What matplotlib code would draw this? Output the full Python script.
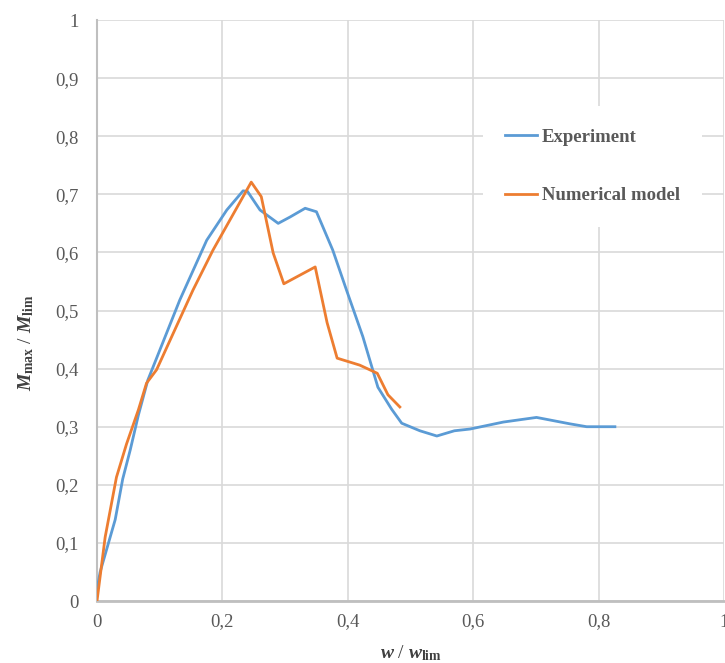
import matplotlib.pyplot as plt
from matplotlib.ticker import FuncFormatter

# Experiment curve (blue)
exp_x = [0.0, 0.005, 0.029, 0.041, 0.053, 0.066, 0.081, 0.132, 0.175, 0.207, 0.233, 0.24,
         0.26, 0.289, 0.308, 0.332, 0.35, 0.376, 0.398, 0.424, 0.448, 0.47, 0.486, 0.515,
         0.542, 0.57, 0.595, 0.648, 0.701, 0.754, 0.781, 0.826]
exp_y = [0.02, 0.05, 0.14, 0.21, 0.26, 0.32, 0.38, 0.518, 0.621, 0.673, 0.706, 0.705,
         0.673, 0.65, 0.661, 0.676, 0.67, 0.604, 0.535, 0.455, 0.368, 0.33, 0.306, 0.293,
         0.284, 0.293, 0.296, 0.308, 0.316, 0.305, 0.3, 0.30]

# Numerical model curve (orange)
num_x = [0.0, 0.013, 0.031, 0.047, 0.066, 0.079, 0.095, 0.153, 0.185, 0.246, 0.262,
         0.281, 0.298, 0.348, 0.367, 0.383, 0.419, 0.447, 0.464, 0.483]
num_y = [0.0, 0.11, 0.213, 0.27, 0.329, 0.375, 0.398, 0.535, 0.604, 0.721, 0.696,
         0.599, 0.546, 0.575, 0.479, 0.418, 0.406, 0.392, 0.355, 0.334]

ticks = [0, 0.1, 0.2, 0.3, 0.4, 0.5, 0.6, 0.7, 0.8, 0.9, 1.0]
xticks = [0, 0.2, 0.4, 0.6, 0.8, 1.0]

plt.rcParams['font.family'] = 'Liberation Serif'
plt.rcParams['mathtext.fontset'] = 'custom'
plt.rcParams['mathtext.rm'] = 'Liberation Serif:bold'
plt.rcParams['mathtext.it'] = 'Liberation Serif:italic:bold'
plt.rcParams['mathtext.bf'] = 'Liberation Serif:bold'

fig = plt.figure(figsize=(7.25, 6.63), dpi=100)
ax = fig.add_axes([0.1338, 0.0935, 0.8648, 0.8763])

ax.plot(exp_x, exp_y, color='#5b9bd5', lw=2, label='Experiment', zorder=3)
ax.plot(num_x, num_y, color='#ed7d31', lw=2, label='Numerical model', zorder=3)

ax.set_xlim(0, 1)
ax.set_ylim(0, 1)
ax.set_xticks(xticks)
ax.set_yticks(ticks)

def comma(v, pos):
    s = ('%.1f' % v).rstrip('0').rstrip('.')
    return s.replace('.', ',')

ax.xaxis.set_major_formatter(FuncFormatter(comma))
ax.yaxis.set_major_formatter(FuncFormatter(comma))
ax.tick_params(length=0, labelsize=13.5, colors='#595959')
ax.tick_params(axis='y', pad=13)
ax.tick_params(axis='x', pad=9)
ax.grid(True, color='#d9d9d9', lw=1.2)
ax.set_axisbelow(True)
for side in ['top', 'right']:
    ax.spines[side].set_visible(False)
ax.spines['left'].set_color('#bfbfbf')
ax.spines['bottom'].set_color('#bfbfbf')
ax.spines['left'].set_linewidth(1.5)
ax.spines['bottom'].set_linewidth(2)

ax.set_xlabel(r'$\mathit{w}$ / $\mathit{w}_{\mathrm{lim}}$', fontsize=14, color='#404040')
ax.set_ylabel(r'$\mathit{M}_{\mathrm{max}}$ / $\mathit{M}_{\mathrm{lim}}$', fontsize=14, color='#404040')
ax.xaxis.set_label_coords(0.5, -0.072)
ax.yaxis.set_label_coords(-0.098, 0.445)

leg = ax.legend(loc='center left', bbox_to_anchor=(0.6, 0.748), frameon=True, fancybox=False,
                handlelength=1.7, handletextpad=0.25, labelspacing=2.2, borderpad=1.2,
                prop={'weight': 'bold', 'size': 13.5})
leg.get_frame().set_facecolor('white')
leg.get_frame().set_edgecolor('none')
leg.get_frame().set_alpha(1)
for t in leg.get_texts():
    t.set_color('#595959')

fig.savefig('out.png', dpi=100)
